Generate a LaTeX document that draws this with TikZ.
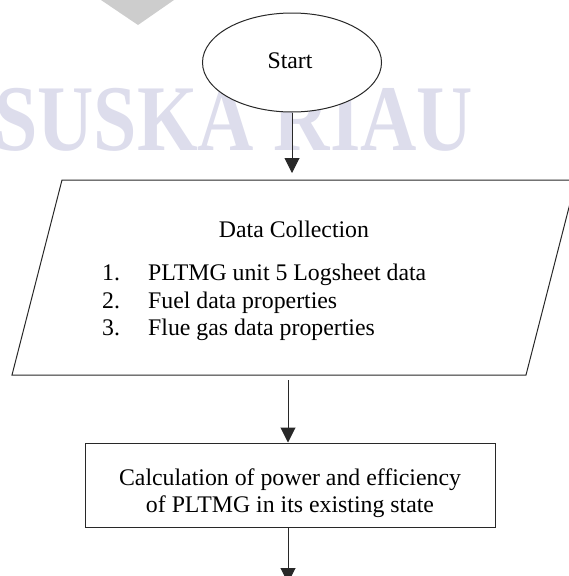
\documentclass[tikz,border=0pt]{standalone}
\usepackage{fontspec}
\setmainfont{Liberation Serif}
\usetikzlibrary{arrows.meta,shapes.geometric}
\definecolor{wmark}{RGB}{221,221,236}
\definecolor{wtri}{RGB}{205,205,205}
\definecolor{lin}{RGB}{40,40,40}
\tikzset{
  txt/.style={font=\fontsize{23.8}{27}\selectfont, inner sep=0pt, anchor=base},
  flowline/.style={draw=lin, line width=1pt},
  arr/.style={flowline, -{Triangle[length=15pt,width=15pt]}},
}
\begin{document}
\begin{tikzpicture}[x=1pt,y=-1pt]
\useasboundingbox (0,0) rectangle (568,576);
% watermark
\fill[wtri] (101,0) -- (174,0) -- (138,25) -- cycle;
\node[inner sep=0pt, anchor=base west, text=wmark, xscale=0.83,
      font=\fontsize{94}{94}\selectfont\bfseries] (wm) at (-6,150) {SUSKA RIAU};
% start
\node[ellipse, draw=lin, line width=1pt, fill=white, minimum width=179pt,
      minimum height=99pt, inner sep=0pt] (start) at (292,62.5) {};
\node[txt] (starttxt) at (290,68) {Start};
% data collection parallelogram
\path (12,375) coordinate (pbl) (62,180) coordinate (ptl)
      (576,180) coordinate (ptr) (526,375) coordinate (pbr);
\draw[flowline] (pbl) -- (ptl) -- (ptr) -- (pbr) -- cycle;
\coordinate (dtop) at (292,173);
\coordinate (dbot) at (288,380);
\node[txt] (dtitle) at (294,237) {Data Collection};
\node[txt, anchor=base west] (n1) at (102,280.7) {1.};
\node[txt, anchor=base west] (n2) at (102,308) {2.};
\node[txt, anchor=base west] (n3) at (102,335.3) {3.};
\node[txt, anchor=base west] (i1) at (148,280.7) {PLTMG unit 5 Logsheet data};
\node[txt, anchor=base west] (i2) at (148,308) {Fuel data properties};
\node[txt, anchor=base west] (i3) at (148,335.3) {Flue gas data properties};
% calculation box
\node[draw=lin, line width=1pt, minimum width=410pt, minimum height=84pt,
      inner sep=0pt] (calc) at (290,485) {};
\node[txt] (c1) at (290,485) {Calculation of power and efficiency};
\node[txt] (c2) at (290,512) {of PLTMG in its existing state};
\coordinate (end) at (288,583);
% connectors
\draw[arr] (start.south -| dtop) -- (dtop);
\draw[arr] (dbot) -- (calc.north -| dbot);
\draw[arr] (calc.south -| end) -- (end);
\end{tikzpicture}
\end{document}
